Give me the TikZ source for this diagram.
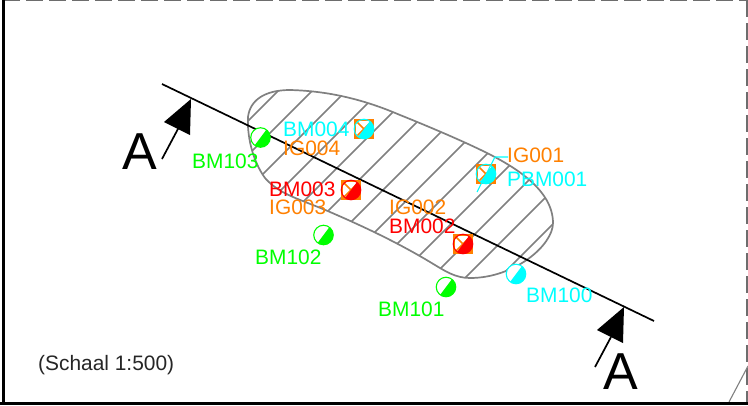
\documentclass[tikz,border=0pt]{standalone}
\usepackage{fontspec}
\setmainfont{Liberation Sans}
\definecolor{cgreen}{HTML}{00FF00}
\definecolor{ccyan}{HTML}{00FFFF}
\definecolor{cred}{HTML}{FF0000}
\definecolor{corange}{HTML}{FF8000}
\definecolor{cgrey}{HTML}{808080}
\tikzset{
  lab/.style={anchor=base west,inner sep=0pt,text=#1,font=\fontsize{20.9}{21}\selectfont},
  bigA/.style={anchor=base west,inner sep=0pt,font=\fontsize{52}{52}\selectfont},
  symb/.style={circle,inner sep=0pt,minimum size=19.5pt,draw=#1,line width=1.1pt,
    path picture={\fill[#1,shift={(path picture bounding box.center)}]
      (-8.4,11.2) -- (8.4,-11.2) -- (19.6,-2.8) -- (2.8,19.6) -- cycle;}},
  igbox/.style={rectangle,inner sep=0pt,minimum size=18pt,draw=corange,line width=2.6pt,fill=white,
    path picture={\draw[corange,line width=1.6pt]
      (path picture bounding box.north west) -- (path picture bounding box.south east)
      (path picture bounding box.north east) -- (path picture bounding box.south west);}},
  hatchline/.style={cgrey,line width=1.6pt},
  outline/.style={cgrey,line width=1.7pt},
  frameline/.style={black,line width=3.8pt},
  dashline/.style={cgrey!85!black,line width=1.4pt,dash pattern=on 17pt off 6pt},
  secline/.style={black,line width=1.7pt},
}
\begin{document}
\begin{tikzpicture}[x=1pt,y=-1pt]
\useasboundingbox (0,0) rectangle (748,405);
\clip (0,0) rectangle (748,405);
\fill[white] (0,0) rectangle (748,405);
% frame
\draw[dashline] (3,0.5) -- (748,0.5);
\draw[dashline] (747,0) -- (747,403);
\draw[cgrey,line width=1.1pt] (729,402) -- (748,366);
\draw[frameline] (3.5,0) -- (3.5,405);
\draw[frameline] (0,403.5) -- (748,403.5);
% hatched area
\def\blob{(248,117) .. controls (250,100) and (265,90) .. (290,90)
  .. controls (330,91) and (365,100) .. (400,115)
  .. controls (430,127) and (465,142) .. (487,153)
  .. controls (515,167) and (553,190) .. (553,223)
  .. controls (553,245) and (515,278) .. (470,278)
  .. controls (455,278) and (445,271) .. (430,262)
  .. controls (395,241) and (360,225) .. (330,212)
  .. controls (300,199) and (280,195) .. (265,178)
  .. controls (252,160) and (247,135) .. (248,117) -- cycle}
\begin{scope}
\clip \blob;
\foreach \c in {335,369,403,437,471,505,539,573,607,641,675,709,743,777,811}
  \draw[hatchline] (\c-405,405) -- (\c,0);
\end{scope}
\draw[outline] \blob;
% section line
\coordinate (s1) at (162,84);
\coordinate (s2) at (654,321);
\draw[secline] (s1) -- (s2);
% section arrows
\coordinate (t1) at (191,99);
\coordinate (b1) at (162,159);
\fill[black] (t1) -- (164,122) -- (190,135) -- cycle;
\draw[secline] (b1) -- (179,127);
\coordinate (t2) at (624,307);
\coordinate (b2) at (595,367);
\fill[black] (t2) -- (597,330) -- (623,343) -- cycle;
\draw[secline] (b2) -- (611,337);
\node[bigA] (a1) at (122,169) {A};
\node[bigA] (a2) at (603,389) {A};
% symbols
\node[symb=cgreen,fill=white] (bm103) at (260.5,137.5) {};
\node[symb=cgreen,fill=white] (bm102) at (323.5,235) {};
\node[symb=cgreen,fill=white] (bm101) at (446,287) {};
\node[symb=ccyan,fill=white] (bm100) at (516,274) {};
\node[igbox] (ig004) at (364,129) {};
\node[symb=ccyan] (bm004) at (364,129) {};
\node[igbox] (ig003) at (351,190) {};
\node[symb=cred] (bm003) at (351,190) {};
\node[igbox] (ig002) at (463,244) {};
\node[symb=cred] (bm002) at (463,244) {};
\node[igbox] (ig001) at (486,174) {};
\node[symb=ccyan] (pbm001) at (486,174) {};
% leader
\coordinate (l1) at (508,157);
\coordinate (l2) at (495,157);
\coordinate (l3) at (477,192);
\draw[ccyan,line width=1.1pt] (l1) -- (l2) -- (l3);
% labels
\node[lab=cgreen] (t103) at (192,168) {BM103};
\node[lab=cgreen] (t102) at (255,264) {BM102};
\node[lab=cgreen] (t101) at (378,316) {BM101};
\node[lab=ccyan] (t100) at (526,302) {BM100};
\node[lab=ccyan] (t004) at (283,136) {BM004};
\node[lab=corange] (i004) at (283,155) {IG004};
\node[lab=cred] (t003) at (269,196) {BM003};
\node[lab=corange] (i003) at (269,214) {IG003};
\node[lab=corange] (i002) at (389,214) {IG002};
\node[lab=cred] (t002) at (389,233) {BM002};
\node[lab=corange] (i001) at (507,162) {IG001};
\node[lab=ccyan] (p001) at (507,186) {PBM001};
\node[lab=black!85] (sch) at (38,370) {(Schaal 1:500)};
\end{tikzpicture}
\end{document}
